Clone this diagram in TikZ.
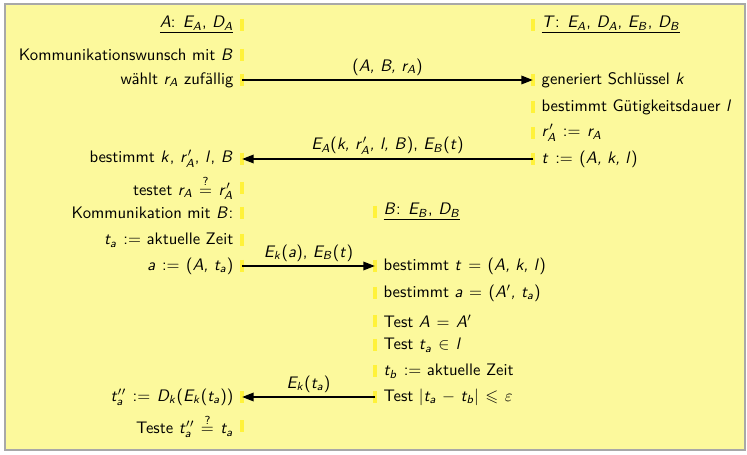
\documentclass[tikz,border=0pt]{standalone}
\usepackage{amsmath,amssymb}
\usepackage{tikz}
\usetikzlibrary{arrows.meta}
\DeclareSymbolFont{cmletters}{OML}{cmm}{m}{it}
\SetSymbolFont{letters}{normal}{OT1}{cmss}{m}{sl}
\SetSymbolFont{operators}{normal}{OT1}{cmss}{m}{n}
\DeclareMathSymbol{\varepsilon}{\mathord}{cmletters}{"22}
\mathcode`\,="612C
\thinmuskip=6mu
\medmuskip=6mu plus 2mu minus 4mu
\thickmuskip=7mu plus 5mu
\definecolor{PAPER}{HTML}{FCF99C}
\definecolor{BAR}{HTML}{FFF23A}
\definecolor{FRAME}{HTML}{A8A8A8}
\definecolor{INK}{HTML}{000000}

\begin{document}
\begin{tikzpicture}[x=0.6pt,y=-0.6pt,font=\sffamily]
\tikzset{msg/.style={-{Triangle[length=7pt,width=5pt]},line width=1.3pt,INK},
 lbar/.style={BAR,line width=2pt},
 atxt/.style={anchor=east,inner sep=0pt},btxt/.style={anchor=west,inner sep=0pt},
 mlab/.style={above,inner sep=2pt}}
\useasboundingbox (0,0) rectangle (747,455);
\draw[FRAME,line width=1pt,fill=PAPER] (5,4) rectangle (745,450);
% column of A
\foreach \n/\y in {1/25,2/55,3/80,4/159,5/188,6/213,7/240,8/266,9/397,10/426}
 {\coordinate (a\n) at (242,\y);\draw[lbar] (242,\y-6) -- (242,\y+6);}
% column of T
\foreach \n/\y in {0/25,1/80,2/107,3/133,4/159}
 {\coordinate (t\n) at (533,\y);\draw[lbar] (533,\y-6) -- (533,\y+6);}
% column of B
\foreach \n/\y in {0/212,1/266,2/293,3/321,4/345,5/371,6/397}
 {\coordinate (b\n) at (375,\y);\draw[lbar] (375,\y-6) -- (375,\y+6);}
\node[atxt] (A0) at ([xshift=-5]a1) {\underline{$A$: $E_A$, $D_A$}};
\node[atxt] (A1) at ([xshift=-5]a2) {Kommunikationswunsch mit $B$};
\node[atxt] (A2) at ([xshift=-5]a3) {wählt $r_A$ zufällig};
\node[atxt] (A3) at ([xshift=-5]a4) {bestimmt $k$, $r_A'$, $l$, $B$};
\node[atxt] (A4) at ([xshift=-5]a5) {testet $r_A \stackrel{?}{=} r_A'$};
\node[atxt] (A5) at ([xshift=-5]a6) {Kommunikation mit $B$:};
\node[atxt] (A6) at ([xshift=-5]a7) {$t_a :=$ aktuelle Zeit};
\node[atxt] (A7) at ([xshift=-5]a8) {$a := (A, t_a)$};
\node[atxt] (A8) at ([xshift=-5]a9) {$t_a'' := D_k(E_k(t_a))$};
\node[atxt] (A9) at ([xshift=-5]a10) {Teste $t_a'' \stackrel{?}{=} t_a$};
\node[btxt] (T0) at ([xshift=5]t0) {\underline{$T$: $E_A$, $D_A$, $E_B$, $D_B$}};
\node[btxt] (T1) at ([xshift=5]t1) {generiert Schlüssel $k$};
\node[btxt] (T2) at ([xshift=5]t2) {bestimmt Gütigkeitsdauer $l$};
\node[btxt] (T3) at ([xshift=5]t3) {$r_A' := r_A$};
\node[btxt] (T4) at ([xshift=5]t4) {$t := (A, k, l)$};
\node[btxt] (B0) at ([xshift=5]b0) {\underline{$B$: $E_B$, $D_B$}};
\node[btxt] (B1) at ([xshift=5]b1) {bestimmt $t = (A, k, l)$};
\node[btxt] (B2) at ([xshift=5]b2) {bestimmt $a = (A', t_a)$};
\node[btxt] (B3) at ([xshift=5]b3) {Test $A = A'$};
\node[btxt] (B4) at ([xshift=5]b4) {Test $t_a \in l$};
\node[btxt] (B5) at ([xshift=5]b5) {$t_b :=$ aktuelle Zeit};
\node[btxt] (B6) at ([xshift=5]b6) {Test $|t_a - t_b| \leqslant \varepsilon$};
% messages
\draw[msg] (a3) -- (t1) node[mlab,midway] {$(A, B, r_A)$};
\draw[msg] (t4) -- (a4) node[mlab,midway] {$E_A(k, r_A', l, B)$, $E_B(t)$};
\draw[msg] (a8) -- (b1) node[mlab,midway] {$E_k(a)$, $E_B(t)$};
\draw[msg] (b6) -- (a9) node[mlab,midway] {$E_k(t_a)$};
\end{tikzpicture}
\end{document}
